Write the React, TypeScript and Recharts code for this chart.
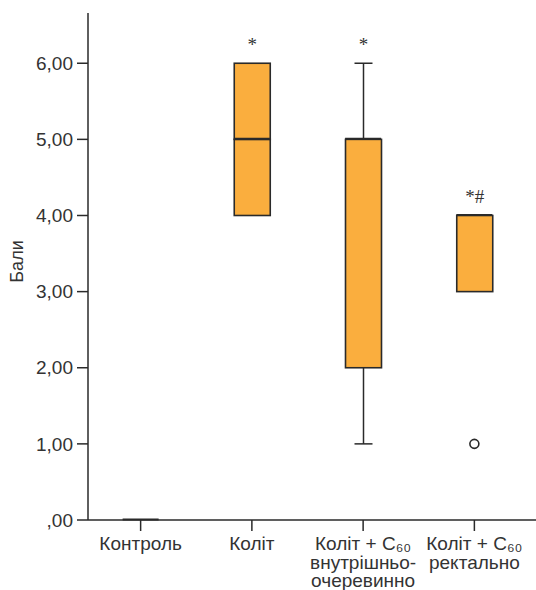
import React from 'react';
import { ComposedChart, Bar, Line, XAxis, YAxis, LabelList } from 'recharts';

// box plot values per group
const groups = ['Контроль', 'Коліт', 'Коліт + C₆₀ внутрішньо-очеревинно', 'Коліт + C₆₀ ректально'];
const tickLabels = [
  ['Контроль'],
  ['Коліт'],
  ['Коліт + C₆₀', 'внутрішньо-', 'очеревинно'],
  ['Коліт + C₆₀', 'ректально'],
];
const minValues = [0, 4, 1, 3];
const q1Values = [0, 4, 2, 3];
const medianValues = [0, 5, 5, 4];
const q3Values = [0, 6, 5, 4];
const maxValues = [0, 6, 6, 4];
const outliers = [null, null, null, 1];
const marks = ['', '*', '*', '*#'];
const yTicks = [0, 1, 2, 3, 4, 5, 6];

const INK = '#2a2a2a';
const TEXT = '#333';
const BOX_FILL = '#FAAE3E';
const FONT = '"Liberation Sans", Arial, "DejaVu Sans", sans-serif';
const BOX_W = 36;

const data = groups.map((group, i) => ({
  group,
  base: minValues[i],
  lowerWhisker: q1Values[i] - minValues[i],
  lowerBox: medianValues[i] - q1Values[i],
  upperBox: q3Values[i] - medianValues[i],
  upperWhisker: maxValues[i] - q3Values[i],
  median: medianValues[i],
  outlier: outliers[i],
  mark: marks[i],
}));

const formatTick = (v: number) => (v === 0 ? ',00' : v.toFixed(2).replace('.', ','));

const BoxShape = ({ x, y, width, height }: any) => (
  <rect
    x={x}
    y={y}
    width={width}
    height={Math.max(height || 0, 0)}
    fill={BOX_FILL}
    stroke={INK}
    strokeWidth={1.6}
  />
);

const LowerWhisker = ({ x, y, width, height }: any) => {
  if (!height) return null;
  const cx = x + width / 2;
  return (
    <g stroke={INK} strokeWidth={1.5}>
      <line x1={cx} x2={cx} y1={y} y2={y + height} />
      <line x1={cx - width / 4} x2={cx + width / 4} y1={y + height} y2={y + height} />
    </g>
  );
};

const UpperWhisker = ({ x, y, width, height }: any) => {
  if (!height) return null;
  const cx = x + width / 2;
  return (
    <g stroke={INK} strokeWidth={1.5}>
      <line x1={cx} x2={cx} y1={y} y2={y + height} />
      <line x1={cx - width / 4} x2={cx + width / 4} y1={y} y2={y} />
    </g>
  );
};

// median drawn as a dot so that zero-height boxes still show it
const MedianDot = ({ cx, cy }: any) => {
  if (cx == null || cy == null) return null;
  return (
    <line
      x1={cx - BOX_W / 2}
      x2={cx + BOX_W / 2}
      y1={cy - 0.5}
      y2={cy - 0.5}
      stroke={INK}
      strokeWidth={2}
    />
  );
};

const GroupTick = ({ x, y, payload }: any) => {
  const lines = tickLabels[payload.index] || [payload.value];
  return (
    <g>
      {lines.map((line, i) => (
        <text
          key={i}
          x={x}
          y={y + 17 + i * 18.5}
          textAnchor="middle"
          fill={TEXT}
          fontSize={19}
          fontFamily={FONT}
        >
          {line}
        </text>
      ))}
    </g>
  );
};

const AxisTitle = ({ viewBox }: any) => {
  const cx = 17;
  const cy = viewBox.y + viewBox.height / 2 - 5;
  return (
    <text
      x={cx}
      y={cy}
      transform={`rotate(-90 ${cx} ${cy})`}
      textAnchor="middle"
      dominantBaseline="central"
      fill={TEXT}
      fontSize={18}
      fontFamily={FONT}
    >
      Бали
    </text>
  );
};

export default function App() {
  return (
    <div style={{ position: 'absolute', left: 0, top: 0, background: '#fff' }}>
      <ComposedChart
        width={536}
        height={590}
        data={data}
        margin={{ top: 13, right: 0, bottom: 0, left: 0 }}
      >
        <XAxis
          dataKey="group"
          interval={0}
          tick={<GroupTick />}
          tickSize={11}
          height={70}
          padding={{ left: -3, right: 6 }}
          axisLine={{ stroke: INK, strokeWidth: 1.5 }}
          tickLine={{ stroke: INK, strokeWidth: 1.5 }}
        />
        <YAxis
          type="number"
          domain={[0, 6.66]}
          ticks={yTicks}
          tickFormatter={formatTick}
          width={88}
          tickSize={11}
          tickMargin={4}
          axisLine={{ stroke: INK, strokeWidth: 1.5 }}
          tickLine={{ stroke: INK, strokeWidth: 1.5 }}
          tick={{ fill: TEXT, fontSize: 19, fontFamily: FONT }}
          label={<AxisTitle />}
        />
        <Bar dataKey="base" stackId="box" fill="none" barSize={BOX_W} isAnimationActive={false} />
        <Bar dataKey="lowerWhisker" stackId="box" shape={<LowerWhisker />} barSize={BOX_W} isAnimationActive={false} />
        <Bar dataKey="lowerBox" stackId="box" shape={<BoxShape />} barSize={BOX_W} isAnimationActive={false} />
        <Bar dataKey="upperBox" stackId="box" shape={<BoxShape />} barSize={BOX_W} isAnimationActive={false} />
        <Bar dataKey="upperWhisker" stackId="box" shape={<UpperWhisker />} barSize={BOX_W} isAnimationActive={false}>
          <LabelList
            dataKey="mark"
            position="top"
            offset={12}
            fill={TEXT}
            fontSize={19}
            fontFamily='"Liberation Serif", "Times New Roman", serif'
          />
        </Bar>
        <Line
          dataKey="median"
          stroke="none"
          isAnimationActive={false}
          activeDot={false}
          dot={<MedianDot />}
        />
        <Line
          dataKey="outlier"
          stroke="none"
          isAnimationActive={false}
          activeDot={false}
          dot={{ r: 4.5, fill: '#fff', stroke: INK, strokeWidth: 1.6 }}
        />
      </ComposedChart>
    </div>
  );
}
